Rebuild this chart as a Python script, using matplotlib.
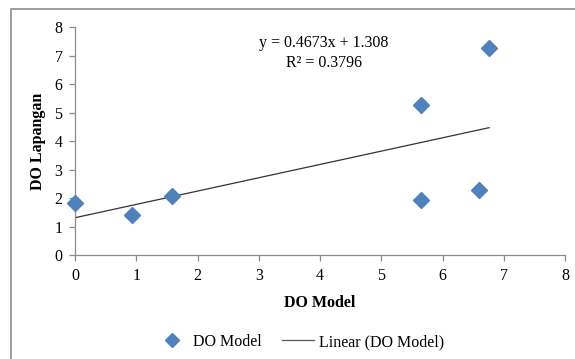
import numpy as np
import matplotlib
matplotlib.use('Agg')
from matplotlib import pyplot as plt
from matplotlib.patches import Rectangle
from matplotlib.lines import Line2D

# data
do_model = [0.0, 0.93, 1.58, 5.65, 5.65, 6.60, 6.76]
do_lapangan = [1.82, 1.40, 2.07, 5.26, 1.93, 2.28, 7.26]
slope = 0.4673
intercept = 1.308
r2 = 0.3796

plt.rcParams['font.family'] = ['Liberation Serif', 'DejaVu Serif']
plt.rcParams['font.size'] = 11.5

fig = plt.figure(figsize=(5.75, 3.59), dpi=100)
ax = fig.add_axes([75 / 575, 1 - 255 / 359, 490 / 575, 228 / 359])

# outer chart frame (only left and top edges visible in the crop)
fig.patches.append(Rectangle((10.5 / 575, -0.1), 1.2, 1 - 8.5 / 359 + 0.1,
                             transform=fig.transFigure, fill=False,
                             edgecolor='#8c8c8c', linewidth=1.2))

marker_color = '#4F81BD'
ax.plot(do_model, do_lapangan, linestyle='none', marker='D', markersize=8,
        color=marker_color, clip_on=False, zorder=3)

# trend line
xs = np.array([min(do_model), max(do_model)])
ax.plot(xs, slope * xs + intercept, color='#333333', linewidth=0.9, zorder=2)

ax.text(4.06, 7.1, 'y = %.4fx + %.3f\nR² = %.4f' % (slope, intercept, r2),
        ha='center', va='center', linespacing=1.35)

ax.set_xlim(0, 8)
ax.set_ylim(0, 8)
ax.set_xticks(range(0, 9))
ax.set_yticks(range(0, 9))
for s in ['top', 'right']:
    ax.spines[s].set_visible(False)
for s in ['left', 'bottom']:
    ax.spines[s].set_color('#8c8c8c')
    ax.spines[s].set_linewidth(0.9)
ax.tick_params(direction='out', length=4, width=0.9, color='#8c8c8c', pad=5)

ax.set_xlabel('DO Model', fontweight='bold', labelpad=8)
ax.set_ylabel('DO Lapangan', fontweight='bold')
ax.yaxis.set_label_coords(-0.06, 0.5)

handles = [Line2D([], [], linestyle='none', marker='D', markersize=7, color=marker_color),
           Line2D([], [], color='#555555', linewidth=0.9)]
fig.legend(handles, ['DO Model', 'Linear (DO Model)'], loc='center',
           bbox_to_anchor=(300 / 575, 1 - 342 / 359), ncol=2, frameon=False,
           handlelength=2.0, columnspacing=1.3, handletextpad=0.3)

fig.savefig('out.png', dpi=100)
